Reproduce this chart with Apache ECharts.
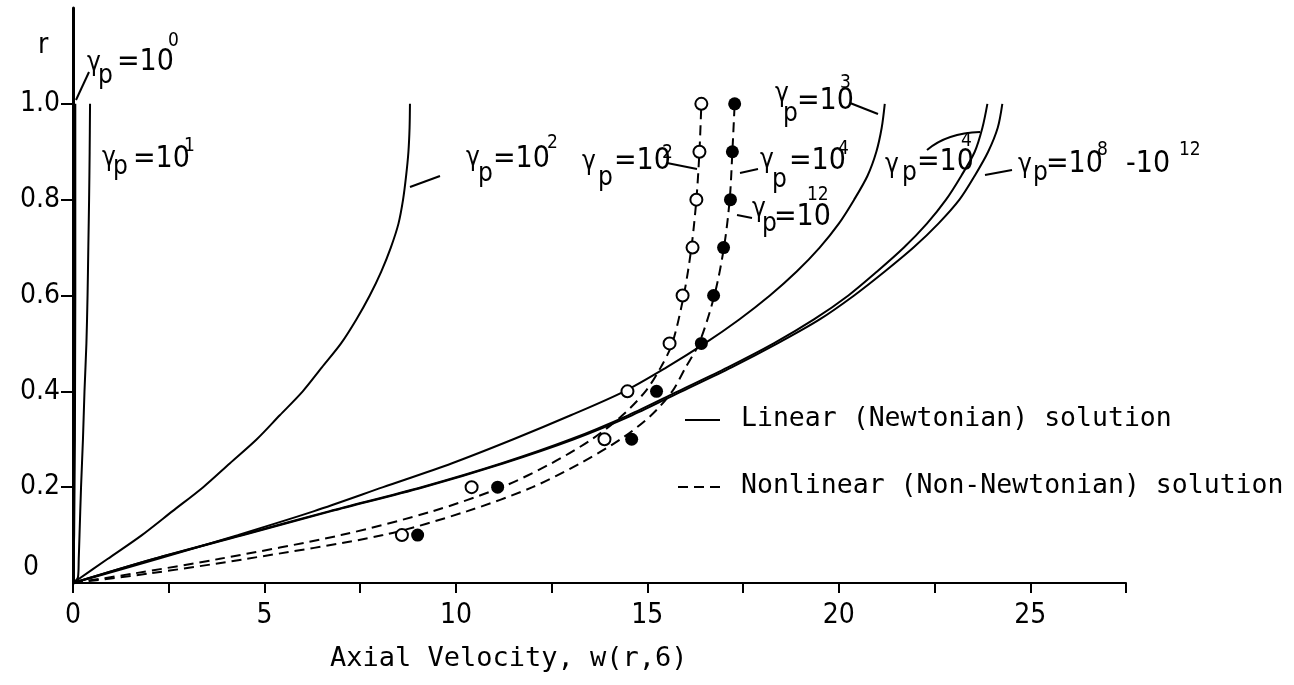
<!DOCTYPE html>
<html>
<head>
<meta charset="utf-8">
<script src="https://cdn.jsdelivr.net/npm/echarts@6/dist/echarts.min.js"></script>
<style>
  html, body { margin: 0; padding: 0; background: #fff; }
  #chart { width: 1294px; height: 685px; }
</style>
</head>
<body>
<div id="chart"></div>
<script>
// ---- tick labels ----
const xTickLabels = [0, 5, 10, 15, 20, 25];
const yTickLabels = [0.2, 0.4, 0.6, 0.8, 1.0];

// ---- linear (Newtonian) profiles: radius r and axial velocity w ----
const rGrid = [0, 0.05, 0.1, 0.15, 0.2, 0.25, 0.3, 0.35, 0.4, 0.45, 0.5,
               0.55, 0.6, 0.65, 0.7, 0.75, 0.8, 0.85, 0.9, 0.95, 1.0];
const rG0 = [0, 0.1, 0.3, 0.6, 1.0];
const wG0 = [0, 0.03, 0.05, 0.06, 0.06];                 // gamma_p = 10^0
const rG1 = [0, 0.012, 0.05, 0.1, 0.2, 0.3, 0.4, 0.5, 0.6, 0.7, 0.8, 0.9, 1.0];
const wG1 = [0, 0.13, 0.15, 0.17, 0.21, 0.26, 0.30, 0.35, 0.38, 0.40, 0.42, 0.435, 0.445]; // 10^1
const wG2 = [0, 0.9, 1.8, 2.6, 3.4, 4.1, 4.8, 5.4, 6.0, 6.5, 7.0,
             7.4, 7.75, 8.05, 8.3, 8.5, 8.62, 8.7, 8.76, 8.79, 8.8];          // 10^2
const wG3 = [0, 2.2, 4.3, 6.3, 8.1, 9.9, 11.5, 13.0, 14.4, 15.5, 16.5,
             17.4, 18.2, 18.9, 19.5, 20.0, 20.4, 20.75, 20.98, 21.12, 21.2];  // 10^3
const wG4 = [0, 2.1, 4.4, 6.7, 9.1, 11.2, 13.0, 14.5, 15.8, 17.1, 18.3,
             19.35, 20.25, 21.0, 21.7, 22.3, 22.8, 23.2, 23.55, 23.75, 23.88]; // 10^4
const wG8 = [0, 2.1, 4.45, 6.75, 9.15, 11.25, 13.08, 14.6, 15.9, 17.2, 18.4,
             19.5, 20.4, 21.2, 21.95, 22.6, 23.15, 23.55, 23.9, 24.15, 24.27]; // 10^8 - 10^12

// ---- nonlinear (non-Newtonian) profiles ----
const rDash = [0, 0.02, 0.05, 0.1, 0.15, 0.2, 0.25, 0.3, 0.35, 0.4, 0.45, 0.5, 0.6, 0.7, 0.8, 0.9, 1.0];
const wDashP2 = [0, 1.6, 3.8, 7.0, 9.4, 11.2, 12.5, 13.55, 14.35, 14.95, 15.35, 15.65, 15.95, 16.15, 16.28, 16.36, 16.41];
const wDashP4 = [0, 2.0, 4.5, 8.1, 10.3, 12.0, 13.25, 14.3, 15.1, 15.65, 16.0, 16.35, 16.75, 17.0, 17.15, 17.22, 17.28];

// computed points
const rPts = [0.1, 0.2, 0.3, 0.4, 0.5, 0.6, 0.7, 0.8, 0.9, 1.0];
const wOpen = [8.59, 10.41, 13.88, 14.48, 15.58, 15.92, 16.18, 16.28, 16.36, 16.41];   // gamma_p = 10^2
const wFilled = [9.0, 11.09, 14.59, 15.24, 16.41, 16.73, 16.99, 17.17, 17.22, 17.28]; // gamma_p = 10^4, 10^12

const pairs = (w, r) => w.map((v, i) => [v, r[i]]);

const NARROW = '"DejaVu Sans Condensed", "Liberation Sans Narrow", "Roboto Condensed", "DejaVu Sans", sans-serif';
const MONO = '"DejaVu Sans Mono", "Liberation Mono", monospace';

function solid(name, data, smooth) {
  return {
    name, type: 'line', data, showSymbol: false, smooth: smooth, silent: true,
    lineStyle: { color: '#000', width: 2 }, z: 3
  };
}
function dashed(name, data) {
  return {
    name, type: 'line', data, showSymbol: false, smooth: 0.3, silent: true,
    lineStyle: { color: '#000', width: 2, type: [10, 6] }, z: 3
  };
}

// text piece: left x, baseline y
function txt(t, x, base, size, fam) {
  return {
    type: 'text', silent: true, z: 10,
    style: {
      text: t, x: x, y: base - 0.36 * size, fill: '#000',
      fontSize: size, fontFamily: fam || NARROW,
      align: 'left', verticalAlign: 'middle'
    }
  };
}
function seg(x1, y1, x2, y2, dash) {
  return {
    type: 'line', silent: true, z: 10,
    shape: { x1, y1, x2, y2 },
    style: { stroke: '#000', lineWidth: 2, lineDash: dash || null }
  };
}
// gamma_p = 10^n label: positions of gamma, p, "=10", exponent
function gammaLabel(g, p, eq, ex) {
  return [
    txt('γ', g[0], g[1], 26),
    txt('p', p[0], p[1], 26),
    txt(eq[2] || '=10', eq[0], eq[1], 30),
    txt(ex[2], ex[0], ex[1], 19)
  ];
}

const graphics = [].concat(
  [txt('r', 38, 56, 28), txt('0', 23, 578, 28)],
  // gamma_p = 10^0
  gammaLabel([87, 73], [98, 86], [117, 73], [168, 48, '0']), [seg(76, 100, 89, 72)],
  // gamma_p = 10^1
  gammaLabel([102, 168], [113, 177], [133, 170], [184, 153, '1']),
  // gamma_p = 10^2 (linear)
  gammaLabel([466, 168], [478, 184], [493, 170], [547, 150, '2']), [seg(410, 187, 440, 176)],
  // gamma_p = 10^2 (nonlinear)
  gammaLabel([582, 172], [598, 188], [614, 172], [662, 160, '2']), [seg(667, 163, 697, 169)],
  // gamma_p = 10^4 (nonlinear)
  gammaLabel([760, 170], [772, 190], [789, 172], [838, 156, '4']), [seg(740, 173, 758, 169)],
  // gamma_p = 10^12 (nonlinear)
  gammaLabel([752, 219], [762, 234], [774, 228], [807, 202, '12']), [seg(737, 215, 752, 218)],
  // gamma_p = 10^3
  gammaLabel([775, 104], [783, 124], [797, 112], [840, 90, '3']), [seg(850, 103, 878, 114)],
  // gamma_p = 10^4 (linear)
  gammaLabel([885, 175], [902, 183], [917, 173], [961, 148, '4']),
  [{
    type: 'bezierCurve', silent: true, z: 10,
    shape: { x1: 927, y1: 150, cpx1: 947, cpy1: 133, x2: 980, y2: 132 },
    style: { stroke: '#000', lineWidth: 2, fill: null }
  }],
  // gamma_p = 10^8 - 10^12
  gammaLabel([1018, 175], [1033, 183], [1046, 175], [1097, 157, '8']),
  [txt('-10', 1126, 175, 30), txt('12', 1179, 157, 19), seg(985, 175, 1012, 170)],
  // legend
  [seg(685, 420, 720, 420), txt('Linear (Newtonian) solution', 741, 429, 26.5, MONO),
   seg(678, 487, 722, 487, [10, 6]), txt('Nonlinear (Non-Newtonian) solution', 741, 496, 26.5, MONO)],
  // x-axis title
  [txt('Axial Velocity, w(r,6)', 330, 669, 27, MONO)]
);

const chart = echarts.init(document.getElementById('chart'), null, { renderer: 'canvas' });
chart.setOption({
  animation: false,
  backgroundColor: '#fff',
  grid: { left: 73, right: 168, top: 8, bottom: 102, containLabel: false },
  xAxis: {
    type: 'value', min: 0, max: 27.5, interval: 2.5,
    axisLine: { lineStyle: { color: '#000', width: 2 } },
    axisTick: { show: true, inside: false, length: 10, lineStyle: { color: '#000', width: 2 } },
    axisLabel: {
      customValues: xTickLabels, margin: 19, color: '#000',
      fontSize: 28, fontFamily: NARROW
    },
    splitLine: { show: false }
  },
  yAxis: {
    type: 'value', min: 0, max: 1.2,
    axisLine: { show: true, lineStyle: { color: '#000', width: 3 } },
    axisTick: { show: true, customValues: yTickLabels, length: 12, lineStyle: { color: '#000', width: 2 } },
    axisLabel: {
      customValues: yTickLabels, margin: 13, color: '#000',
      fontSize: 28, fontFamily: NARROW,
      formatter: v => v.toFixed(1)
    },
    splitLine: { show: false }
  },
  series: [
    solid('g0', pairs(wG0, rG0), false),
    solid('g1', pairs(wG1, rG1), 0.3),
    solid('g2', pairs(wG2, rGrid), 0.3),
    solid('g3', pairs(wG3, rGrid), 0.3),
    solid('g4', pairs(wG4, rGrid), 0.3),
    solid('g8', pairs(wG8, rGrid), 0.3),
    dashed('n2', pairs(wDashP2, rDash)),
    dashed('n4', pairs(wDashP4, rDash)),
    {
      name: 'open', type: 'scatter', data: pairs(wOpen, rPts), symbol: 'circle', symbolSize: 12,
      itemStyle: { color: '#fff', borderColor: '#000', borderWidth: 2, opacity: 1 }, z: 5, silent: true
    },
    {
      name: 'filled', type: 'scatter', data: pairs(wFilled, rPts), symbol: 'circle', symbolSize: 13,
      itemStyle: { color: '#000', opacity: 1 }, z: 5, silent: true
    }
  ],
  graphic: { elements: graphics }
});
</script>
</body>
</html>
